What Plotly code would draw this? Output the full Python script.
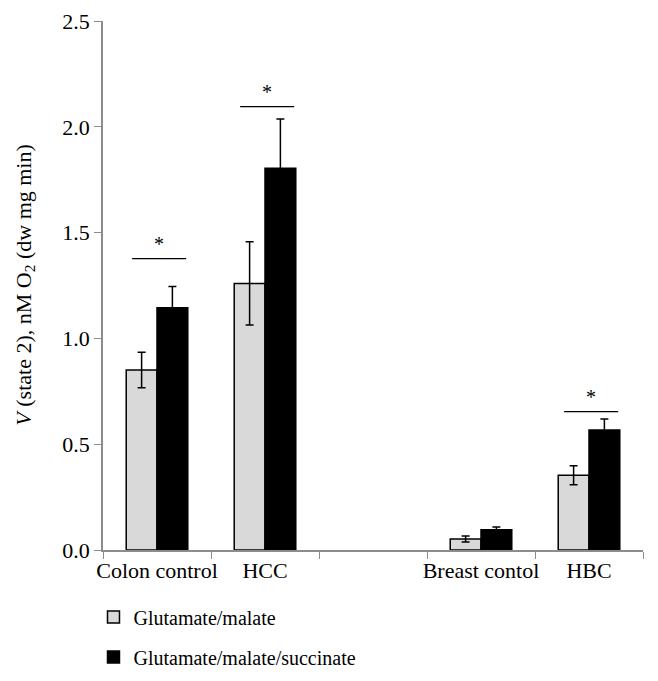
import plotly.graph_objects as go

categories = ["Colon control", "HCC", " ", "Breast contol", "HBC"]
gm_values = [0.851, 1.26, None, 0.052, 0.353]
gm_errors = [0.084, 0.197, None, 0.014, 0.045]
gms_values = [1.145, 1.804, None, 0.096, 0.567]
gms_errors = [0.10, 0.233, None, 0.013, 0.052]
series_names = ["Glutamate/malate", "Glutamate/malate/succinate"]
sig_categories = [0, 1, 4]
sig_levels = [1.377, 2.095, 0.654]
y_ticks = [0.0, 0.5, 1.0, 1.5, 2.0, 2.5]

FONT = "Liberation Serif"

fig = go.Figure()
fig.add_trace(go.Bar(
    x=categories, y=gm_values, name=series_names[0],
    marker=dict(color="#d9d9d9", line=dict(color="black", width=1.5)),
    error_y=dict(type="data", array=gm_errors, color="black", thickness=1.5, width=4),
    legend="legend",
))
fig.add_trace(go.Bar(
    x=categories, y=gms_values, name=series_names[1],
    marker=dict(color="black", line=dict(color="black", width=1.5)),
    error_y=dict(type="data", array=gms_errors, color="black", thickness=1.5, width=4),
    legend="legend2",
))

for ci, lvl in zip(sig_categories, sig_levels):
    fig.add_shape(type="line", xref="x", yref="y",
                  x0=ci - 0.23, x1=ci + 0.27, y0=lvl, y1=lvl,
                  line=dict(color="black", width=1.3))
    fig.add_annotation(x=ci + 0.02, y=lvl, xref="x", yref="y", text="*",
                       showarrow=False, yanchor="bottom", yshift=2,
                       font=dict(family=FONT, size=20, color="black"))

fig.add_annotation(
    text="<i>V</i> (state 2), nM O<sub>2</sub> (dw mg min)",
    xref="paper", yref="paper", x=-0.146, y=0.5, textangle=-90,
    xanchor="center", yanchor="middle",
    showarrow=False, font=dict(family=FONT, size=22, color="black"),
)

fig.update_layout(
    width=658, height=681,
    margin=dict(l=103, r=15, t=21, b=131, autoexpand=False),
    plot_bgcolor="white", paper_bgcolor="white",
    barmode="group", bargap=0.43, bargroupgap=0,
    font=dict(family=FONT, size=20, color="black"),
    showlegend=True,
    legend=dict(x=-0.0176, y=-0.1267, xanchor="left", yanchor="middle",
                font=dict(family=FONT, size=20, color="black"),
                bgcolor="rgba(0,0,0,0)"),
    legend2=dict(x=-0.0176, y=-0.2023, xanchor="left", yanchor="middle",
                 font=dict(family=FONT, size=20, color="black"),
                 bgcolor="rgba(0,0,0,0)"),
)
fig.update_xaxes(
    type="category", categoryorder="array", categoryarray=categories,
    tickson="boundaries", ticks="outside", ticklen=7, tickcolor="#8c8c8c",
    tickangle=0, automargin=False,
    showline=True, linecolor="#8c8c8c", linewidth=1.5, showgrid=False,
    tickfont=dict(family=FONT, size=22, color="black"),
)
fig.update_yaxes(
    range=[0, 2.5], tickvals=y_ticks, ticktext=[f"{v:.1f}" for v in y_ticks],
    ticks="outside", ticklen=7, tickcolor="#8c8c8c", automargin=False,
    showline=True, linecolor="#8c8c8c", linewidth=1.5, showgrid=False,
    zeroline=False, tickfont=dict(family=FONT, size=22, color="black"),
)

fig.write_html("out.html", config={"displayModeBar": False},
               post_script="document.body.style.margin='0';document.body.style.overflow='hidden';")
